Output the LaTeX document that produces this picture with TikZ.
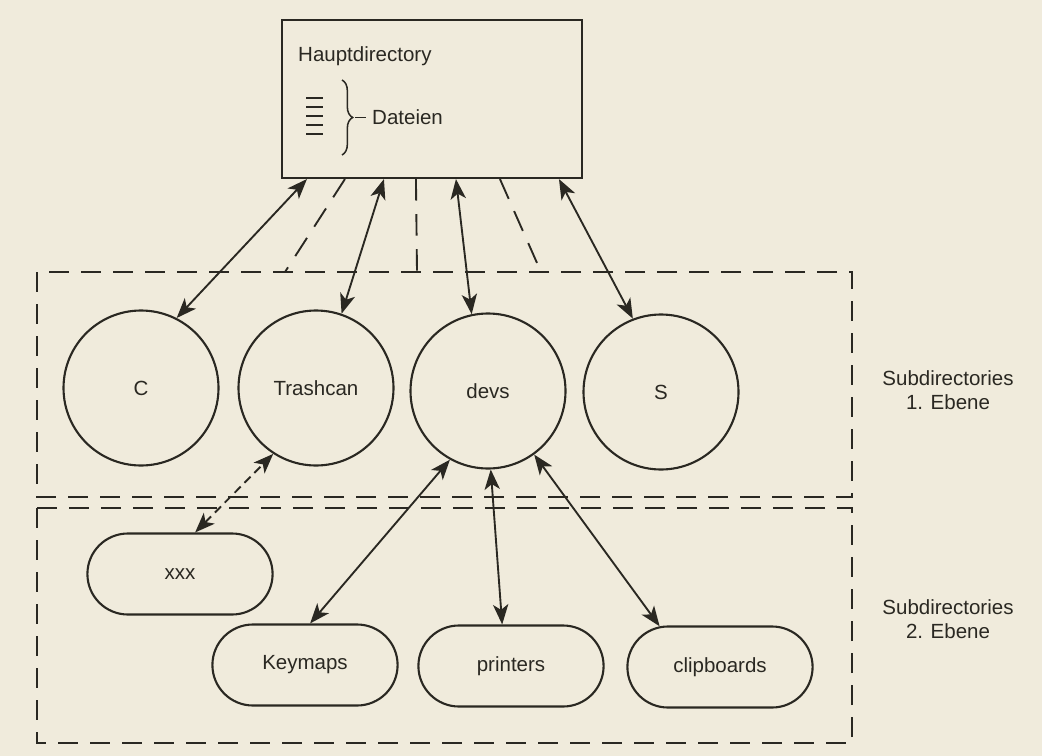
\documentclass[tikz,border=0pt]{standalone}
\usepackage{fontspec}
\setmainfont{Liberation Sans}
\usepackage{tikz}
\usetikzlibrary{
  shapes.misc,
  arrows.meta,
  positioning,
  calc,
  decorations.pathreplacing
}
\definecolor{papercolor}{RGB}{240, 235, 220}
\definecolor{inkcolor}{RGB}{42, 40, 34}
\tikzset{
blocktext/.style={
  align=center,
  font=\fontsize{17.5}{20.5}\selectfont,
  text=inkcolor
},
dirbox/.style={
  draw=inkcolor,
  line width=1.8pt,
  minimum width=90mm,
  minimum height=47.4mm,
  inner sep=0pt
},
dircircle/.style={
  draw=inkcolor,
  circle,
  line width=1.8pt,
  minimum size=46.5mm,
  blocktext
},
subblock/.style={
  draw=inkcolor,
  rounded rectangle,
  line width=1.8pt,
  minimum width=57.9mm,
  minimum height=24.3mm,
  blocktext
},
levelframe/.style={
  draw=inkcolor,
  line width=1.7pt,
  dash pattern=on 6mm off 3.6mm
},
dashedline/.style={
  draw=inkcolor,
  line width=1.6pt,
  dash pattern=on 6.5mm off 4mm
},
filemark/.style={
  draw=inkcolor,
  line width=1.3pt
},
arrow/.style={
  {Stealth[length=6mm,width=4.6mm,inset=1.6mm]}-{Stealth[length=6mm,width=4.6mm,inset=1.6mm]},
  line width=1.6pt,
  draw=inkcolor
},
dashedarrow/.style={
  arrow,
  dash pattern=on 2.6mm off 1.6mm
}
}

\begin{document}
\begin{tikzpicture}[x=0.3mm, y=-0.3mm]
        \fill[papercolor] (0,0) rectangle (1042,756);

        \node[dirbox] (haupt) at (432,99) {};
        \node[blocktext, inner sep=0pt, anchor=base west] (hauptlabel) at (298,62) {Hauptdirectory};
        \foreach \i in {0,...,4}
          \draw[filemark] (306,98+9*\i) -- (323,98+9*\i);
        \draw[filemark, decorate, decoration={brace, amplitude=3.2mm}] (342,80) -- (342,155);
        \draw[filemark] (355,117.5) -- (366,117.5);
        \node[blocktext, inner sep=0pt, anchor=base west] (dateien) at (372,125) {Dateien};

        \draw[levelframe] (37,272) rectangle (852,497);
        \draw[levelframe] (37,508) rectangle (852,743);
        \coordinate (f1) at (285,272);
        \coordinate (f2) at (417,272);
        \coordinate (f3) at (541,272);

        \node[dircircle] (dirC) at (141,388) {C};
        \node[dircircle] (trash) at (316,388) {Trashcan};
        \node[dircircle] (devs) at (488,391) {devs};
        \node[dircircle] (dirS) at (661,392) {S};

        \node[subblock] (xxx) at (180,574) {xxx};
        \node[subblock] (keymaps) at (305,665) {Keymaps};
        \node[subblock] (printers) at (511,666) {printers};
        \node[subblock] (clipboards) at (720,667) {clipboards};

        \node[blocktext] (level1) at (948,390) {Subdirectories\\1. Ebene};
        \node[blocktext] (level2) at (948,619) {Subdirectories\\2. Ebene};

        \draw[dashedline] ($(haupt.south west)+(64,0)$) -- (f1);
        \draw[dashedline] ($(haupt.south west)+(135,0)$) -- (f2);
        \draw[dashedline] ($(haupt.south west)+(219,0)$) -- (f3);

        \draw[arrow] (dirC.63) -- ($(haupt.south west)+(26,0)$);
        \draw[arrow] (trash.71) -- ($(haupt.south west)+(103,0)$);
        \draw[arrow] (devs.102) -- ($(haupt.south west)+(175,0)$);
        \draw[arrow] (dirS.111) -- ($(haupt.south west)+(278,0)$);

        \draw[dashedarrow] (xxx.70) -- (trash.237);
        \draw[arrow] (keymaps.83) -- (devs.241);
        \draw[arrow] (printers.102) -- (devs.272);
        \draw[arrow] (clipboards.146) -- (devs.306);
      \end{tikzpicture}
\end{document}
